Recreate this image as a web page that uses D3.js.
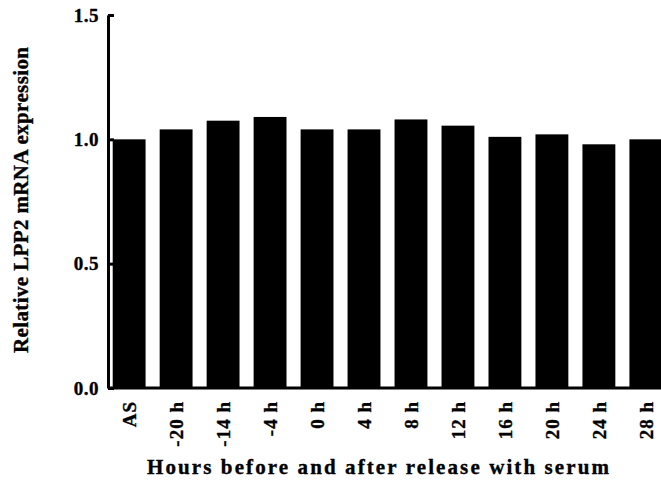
<!DOCTYPE html>
<html>
<head>
<meta charset="utf-8">
<script src="https://cdn.jsdelivr.net/npm/d3@7"></script>
<style>
  html, body { margin: 0; padding: 0; background: #fff; }
  svg { display: block; }
  text { font-family: "Liberation Serif", "Times New Roman", serif; font-weight: bold; fill: #000; stroke: #000; stroke-width: 0.35px; }
</style>
</head>
<body>
<svg id="chart" width="661" height="481"></svg>
<script>
// Relative LPP2 mRNA expression by time point
const categories = ["AS", "-20 h", "-14 h", "-4 h", "0 h", "4 h", "8 h", "12 h", "16 h", "20 h", "24 h", "28 h"];
const expression = [1.00, 1.04, 1.075, 1.09, 1.04, 1.04, 1.08, 1.055, 1.01, 1.02, 0.98, 1.00];
const yTicks = [0.0, 0.5, 1.0, 1.5];

const svg = d3.select("#chart");
const axisX = 108, baseY = 388, topY = 15;
const serif = "'Liberation Serif', 'Times New Roman', serif";

const x = d3.scaleBand()
  .domain(categories)
  .range([axisX, 667])
  .paddingInner(0.3)
  .paddingOuter(0.1);

const y = d3.scaleLinear()
  .domain([0, 1.5])
  .range([baseY, topY]);

// bars
svg.append("g")
  .selectAll("rect")
  .data(categories)
  .join("rect")
  .attr("x", d => x(d))
  .attr("width", x.bandwidth())
  .attr("y", (d, i) => y(expression[i]))
  .attr("height", (d, i) => baseY - y(expression[i]))
  .attr("fill", "#000");

// y axis with inward ticks
const yAxis = d3.axisLeft(y)
  .tickValues(yTicks)
  .tickFormat(d3.format(".1f"))
  .tickSizeInner(-6)
  .tickSizeOuter(0)
  .tickPadding(9);

const gy = svg.append("g")
  .attr("transform", `translate(${axisX},0)`)
  .call(yAxis);
gy.select(".domain").attr("stroke", "#000").attr("stroke-width", 3);
gy.selectAll(".tick line").attr("stroke", "#000").attr("stroke-width", 3);
gy.selectAll(".tick text")
  .attr("font-size", 19)
  .attr("letter-spacing", "0.5px")
  .attr("font-family", serif)
  .attr("font-weight", "bold");

// x axis baseline and rotated category labels
const xAxis = d3.axisBottom(x).tickSize(0).tickPadding(0);
const gx = svg.append("g")
  .attr("transform", `translate(0,${baseY})`)
  .call(xAxis);
gx.select(".domain").attr("stroke", "#000").attr("stroke-width", 3)
  .attr("d", `M${axisX},0H661`);
gx.selectAll(".tick text")
  .attr("font-size", 19)
  .attr("letter-spacing", "1px")
  .attr("font-family", serif)
  .attr("font-weight", "bold")
  .attr("text-anchor", "end")
  .attr("transform", "rotate(-90)")
  .attr("x", -13)
  .attr("y", 0)
  .attr("dy", "0.36em");

// axis titles
svg.append("text")
  .attr("transform", "translate(28,200) rotate(-90)")
  .attr("text-anchor", "middle")
  .attr("font-family", serif)
  .attr("font-size", 21)
  .attr("textLength", 306)
  .attr("lengthAdjust", "spacing")
  .text("Relative LPP2 mRNA expression");

svg.append("text")
  .attr("x", 378)
  .attr("y", 474)
  .attr("text-anchor", "middle")
  .attr("font-family", serif)
  .attr("font-size", 21)
  .attr("textLength", 462)
  .attr("lengthAdjust", "spacing")
  .text("Hours before and after release with serum");
</script>
</body>
</html>
